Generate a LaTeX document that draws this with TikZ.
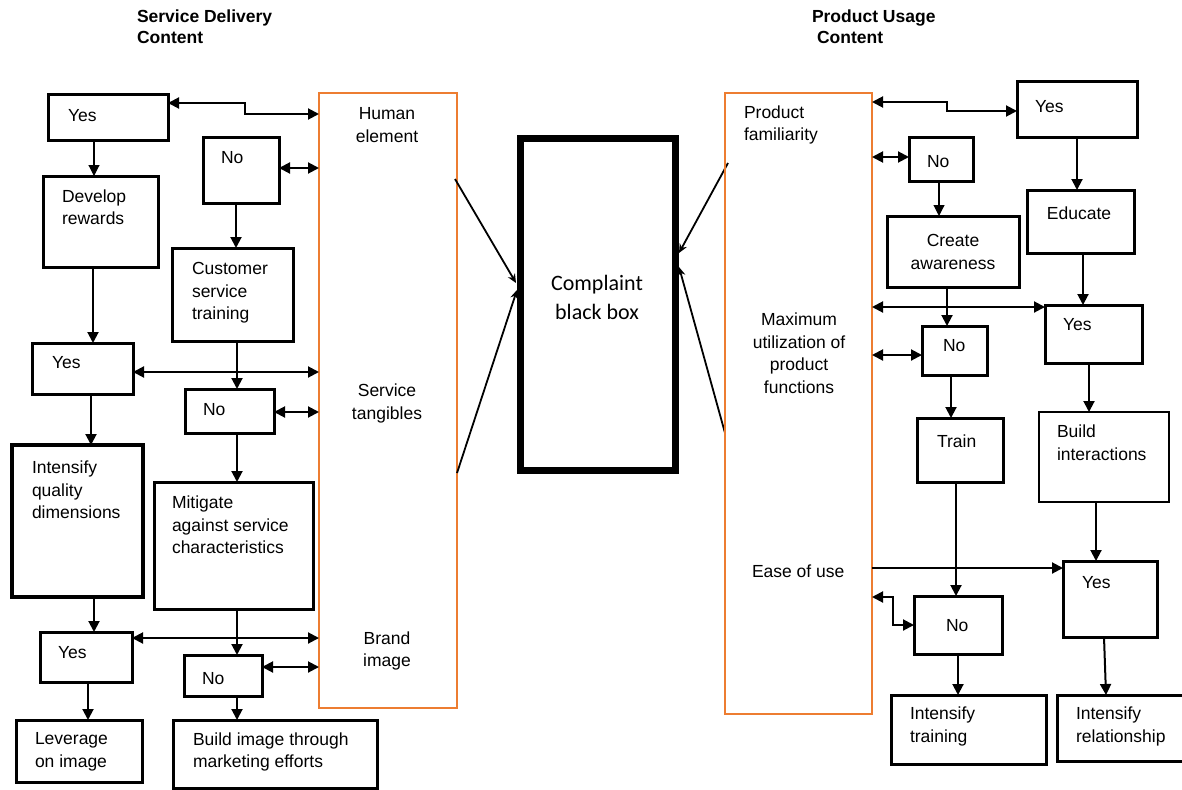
\documentclass[tikz,border=0pt]{standalone}
\usepackage{fontspec}
\setmainfont{Liberation Sans}
\newfontfamily\cbfont{Carlito}
\usetikzlibrary{arrows.meta}
\definecolor{orangec}{RGB}{237,125,49}
\newcommand\mybox[6][]{\node[boxst,#1,minimum width={#5-#3},minimum height={#6-#4}] (#2) at ({(#3+#5)/2},{(#4+#6)/2}) {};}
\begin{document}
\begin{tikzpicture}[x=1pt,y=-1pt,
  boxst/.style={draw=black,line width=3pt,inner sep=0pt,outer sep=0pt,rectangle},
  orbox/.style={draw=orangec,line width=2.4pt,inner sep=0pt,outer sep=0pt,rectangle},
  txt/.style={inner sep=0pt,outer sep=0pt,align=left,anchor=west,font=\fontsize{17.5}{22.5}\selectfont},
  ctxt/.style={inner sep=0pt,outer sep=0pt,align=center,font=\fontsize{17.5}{22.5}\selectfont},
  ttl/.style={inner sep=0pt,outer sep=0pt,align=left,anchor=west,font=\fontsize{17.5}{21}\selectfont\bfseries},
  arr/.style={line width=2pt,-{Triangle[length=11pt,width=11pt]}},
  tarr/.style={line width=1.1pt,-{Triangle[length=11pt,width=11pt]}},
  dbl/.style={line width=2pt,{Triangle[length=11pt,width=11pt]}-{Triangle[length=11pt,width=11pt]}},
  carr/.style={line width=1.8pt,-{Stealth[length=9pt,width=8pt]}}]
\useasboundingbox (0,0) rectangle (1182,789);
\fill[white] (0,0) rectangle (1182,789);
% helper coordinates
\foreach \v in {88,91,93,94,236,237,245,939,947,951,956,958,1077,1083,1089,1096,893}
  \coordinate (X\v) at (\v,0);
\foreach \v in {103,114,168,372,412,638,667,102,111,157,307,355,568,597,625}
  \coordinate (Y\v) at (0,\v);
% titles
\node[ttl] (title1) at (137,26.5) {Service Delivery\\Content};
\node[ttl] (title2) at (812,26.5) {Product Usage\\\hspace{5pt}Content};
% left column boxes
\mybox{yes1}{48}{95}{168}{140}
\mybox{dev}{43}{176}{158}{267}
\mybox{no1}{203}{137}{279}{203}
\mybox{cst}{172}{248}{293}{341}
\mybox[orbox]{orL}{319}{93}{457}{708}
\mybox{yes2}{32}{343}{133}{394}
\mybox{no2}{185}{389}{274}{433}
\mybox[line width=4.8pt]{iqd}{12}{445}{143}{597}
\mybox{mit}{154}{482}{313}{609}
\mybox{yes3}{40}{632}{132}{682}
\mybox{no3}{184}{655}{262}{696}
\mybox{lev}{16}{720}{142}{782}
\mybox{bim}{173}{720}{377}{788}
% left texts
\node[txt] (tyes1) at (68,116) {Yes};
\node[txt] (tdev) at (62,207) {Develop\\rewards};
\node[txt] (tno1) at (221,158) {No};
\node[txt] (tcst) at (192,293) {Customer\\service\\training};
\node[ctxt] (thum) at (387,125) {Human\\element};
\node[ctxt] (tser) at (387,403.5) {Service\\tangibles};
\node[ctxt] (tbra) at (387,651) {Brand\\image};
\node[txt] (tyes2) at (52,363) {Yes};
\node[txt] (tno2) at (203,410) {No};
\node[txt] (tiqd) at (32,490) {Intensify\\quality\\dimensions};
\node[txt] (tmit) at (172,525) {Mitigate\\against service\\characteristics};
\node[txt] (tyes3) at (58,653) {Yes};
\node[txt] (tno3) at (202,679) {No};
\node[txt] (tlev) at (35,752) {Leverage\\on image};
\node[txt] (tbim) at (193,752) {Build image through\\marketing efforts};
% left connectors
\draw[dbl] (yes1.east |- Y103) -- (X245 |- Y103) -- (X245 |- Y114) -- (orL.west |- Y114);
\draw[dbl] (no1.east |- Y168) -- (orL.west |- Y168);
\draw[tarr] (yes1.south -| X94) -- (dev.north -| X94);
\draw[arr] (dev.south -| X93) -- (yes2.north -| X93);
\draw[arr] (no1.south -| X236) -- (cst.north -| X236);
\draw[dbl] (yes2.east |- Y372) -- (orL.west |- Y372);
\draw[arr] (cst.south -| X237) -- (no2.north -| X237);
\draw[dbl] (no2.east |- Y412) -- (orL.west |- Y412);
\draw[arr] (yes2.south -| X91) -- (iqd.north -| X91);
\draw[arr] (no2.south -| X237) -- (mit.north -| X237);
\draw[arr] (iqd.south -| X94) -- (yes3.north -| X94);
\draw[dbl] (yes3.east |- Y638) -- (orL.west |- Y638);
\draw[arr] (mit.south -| X237) -- (no3.north -| X237);
\draw[dbl] (no3.east |- Y667) -- (orL.west |- Y667);
\draw[arr] (yes3.south -| X88) -- (lev.north -| X88);
\draw[arr] (no3.south -| X237) -- (bim.north -| X237);
% center
\mybox[line width=7pt]{cbb}{520}{138}{675}{470}
\node[inner sep=0pt,align=center,font=\cbfont\fontsize{22}{29}\selectfont] (tcbb) at (597,297.5) {Complaint\\black box};
\coordinate (cl1) at (455,179);
\coordinate (cl2) at (457,473);
\coordinate (cr1) at (728,163);
\coordinate (cr2) at (725,433);
\coordinate (el1) at (516,283);
\coordinate (el2) at (517,290);
\coordinate (er1) at (679,253);
\coordinate (er2) at (679,267);
\draw[carr] (cl1) -- (el1);
\draw[carr] (cl2) -- (el2);
\draw[carr] (cr1) -- (er1);
\draw[carr] (cr2) -- (er2);
% right column boxes
\mybox[orbox]{orR}{725}{93}{872}{714}
\mybox{yes4}{1017}{82}{1137}{137}
\mybox{no4}{909}{137}{973}{181}
\mybox{cra}{887}{216}{1019}{287}
\mybox{edu}{1027}{190}{1134}{253}
\mybox{yes5}{1045}{305}{1142}{363}
\mybox{no5}{922}{326}{987}{375}
\mybox{trn}{917}{418}{1003}{482}
\mybox[line width=1.4pt]{bin}{1039}{412}{1169}{502}
\mybox{yes6}{1063}{561}{1157}{637}
\mybox{no6}{914}{596}{1002}{654}
\mybox{itr}{891}{695}{1046}{764}
\mybox{irl}{1057}{695}{1190}{761}
% right texts
\node[txt] (tpro) at (744,125) {Product\\familiarity};
\node[ctxt] (tmax) at (799,353) {Maximum\\utilization of\\product\\functions};
\node[txt] (tease) at (752,571) {Ease of use};
\node[txt] (tyes4) at (1035,107) {Yes};
\node[txt] (tno4) at (927,162) {No};
\node[ctxt] (tcra) at (953,252) {Create\\awareness};
\node[ctxt] (tedu) at (1079,213) {Educate};
\node[txt] (tyes5) at (1063,325) {Yes};
\node[txt] (tno5) at (943,346) {No};
\node[txt] (ttrn) at (937,441) {Train};
\node[txt] (tbin) at (1057,442.5) {Build\\interactions};
\node[txt] (tyes6) at (1082,583) {Yes};
\node[txt] (tno6) at (946,626) {No};
\node[txt] (titr) at (910,726.5) {Intensify\\training};
\node[txt] (tirl) at (1076,726.5) {Intensify\\relationship};
% right connectors
\draw[dbl] (orR.east |- Y102) -- (X947 |- Y102) -- (X947 |- Y111) -- (yes4.west |- Y111);
\draw[dbl] (orR.east |- Y157) -- (no4.west |- Y157);
\draw[tarr] (no4.south -| X939) -- (cra.north -| X939);
\draw[arr] (yes4.south -| X1077) -- (edu.north -| X1077);
\draw[arr] (edu.south -| X1083) -- (yes5.north -| X1083);
\draw[arr] (cra.south -| X947) -- (no5.north -| X947);
\draw[dbl] (orR.east |- Y307) -- (yes5.west |- Y307);
\draw[dbl] (orR.east |- Y355) -- (no5.west |- Y355);
\draw[arr] (no5.south -| X951) -- (trn.north -| X951);
\draw[arr] (yes5.south -| X1089) -- (bin.north -| X1089);
\draw[arr] (trn.south -| X956) -- (no6.north -| X956);
\draw[arr] (bin.south -| X1096) -- (yes6.north -| X1096);
\draw[arr] (orR.east |- Y568) -- (yes6.west |- Y568);
\draw[dbl] (orR.east |- Y597) -- (X893 |- Y597) -- (X893 |- Y625) -- (no6.west |- Y625);
\draw[arr] (no6.south -| X958) -- (itr.north -| X958);
\coordinate (yr1) at (1104,637);
\coordinate (yr2) at (1106,695);
\draw[arr] (yr1) -- (yr2);
\end{tikzpicture}
\end{document}
